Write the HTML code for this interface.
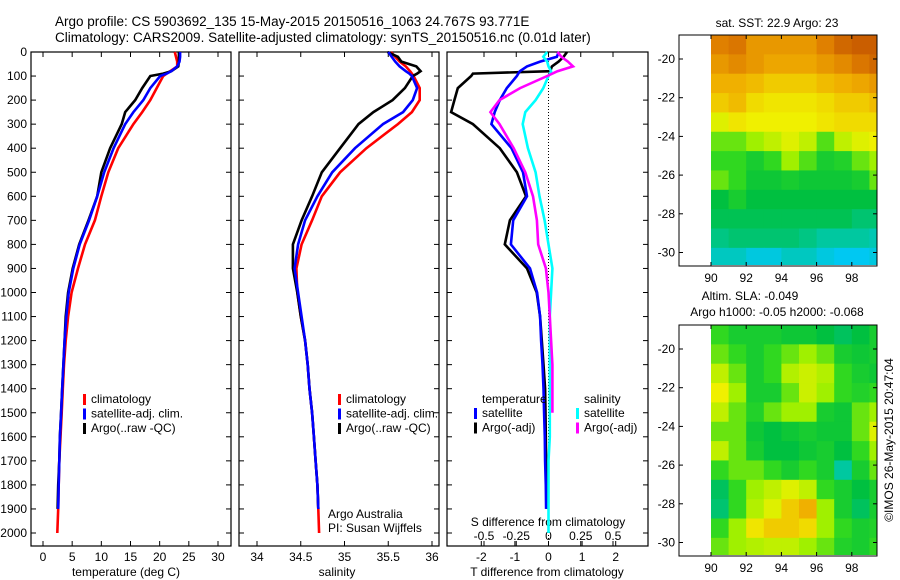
<!DOCTYPE html>
<html><head><meta charset="utf-8"><style>
body{margin:0;background:#fff}
svg{display:block;font-family:"Liberation Sans",sans-serif}
text{fill:#000}
</style></head><body>
<svg id="fig" width="900" height="580" viewBox="0 0 900 580">
<text x="55" y="26" font-size="13.5">Argo profile: CS 5903692_135 15-May-2015 20150516_1063 24.767S 93.771E</text>
<text x="55" y="42" font-size="13.5">Climatology: CARS2009. Satellite-adjusted climatology: synTS_20150516.nc (0.01d later)</text>
</svg>
<script>
// ---------- data ----------
const depthTicks=[0,100,200,300,400,500,600,700,800,900,1000,1100,1200,1300,1400,1500,1600,1700,1800,1900,2000];
const tempTicks=[0,5,10,15,20,25,30];
const salTicks=[34,34.5,35,35.5,36];
const salTickLabels=["34","34.5","35","35.5","36"];
const tdTicks=[-2,-1,0,1,2];
const sdTicks=[-0.5,-0.25,0,0.25,0.5];
const sdTickLabels=["-0.5","-0.25","0","0.25","0.5"];
const lonTicks=[90,92,94,96,98];
const latTicks=[-20,-22,-24,-26,-28,-30];

const depths=[0,20,40,60,80,90,100,150,200,250,300,400,500,600,700,800,900,1000,1100,1200,1300,1400,1500,1600,1700,1800,1900,2000];
const tempClim=[22.6,22.8,23.0,23.0,21.8,21.2,20.6,19.5,18.4,17.0,15.5,12.9,11.2,10.0,8.9,7.2,6.0,4.9,4.3,3.9,3.6,3.4,3.2,3.0,2.8,2.7,2.6,2.45];
const tempSat=[23.5,23.5,23.4,23.0,22.0,21.2,20.1,18.4,17.2,15.5,14.1,12.1,10.5,9.3,7.9,6.3,5.2,4.4,4.0,3.7,3.5,3.3,3.1,2.9,2.8,2.7,2.6,2.5];
const tempArgo=[23.3,23.3,23.3,23.2,22.0,20.6,18.4,17.0,15.8,14.1,13.5,11.5,10.0,9.3,7.8,6.2,5.1,4.3,3.9,3.7,3.5,3.3,3.1,2.9,2.8,2.6,2.5,2.3];
const salClim=[35.53,35.58,35.63,35.70,35.75,35.77,35.79,35.86,35.86,35.77,35.61,35.25,34.95,34.74,34.63,34.51,34.45,34.46,34.50,34.55,34.58,34.60,34.63,34.65,34.67,34.69,34.70,34.71];
const salSat=[35.50,35.54,35.58,35.63,35.70,35.74,35.77,35.83,35.78,35.67,35.44,35.12,34.86,34.69,34.55,34.47,34.43,34.47,34.51,34.55,34.58,34.60,34.63,34.65,34.67,34.69,34.70,34.71];
const salArgo=[35.49,35.61,35.65,35.82,35.87,35.83,35.78,35.69,35.55,35.33,35.16,34.95,34.74,34.63,34.51,34.41,34.41,34.46,34.50,34.55,34.58,34.60,34.63,34.65,34.67,34.69,34.70,34.70];
const tdSat=[0.3,0.25,-0.25,-0.64,-0.85,-0.9,-0.94,-1.24,-1.45,-1.6,-1.7,-1.1,-0.76,-0.64,-1.05,-1.12,-0.55,-0.34,-0.25,-0.22,-0.18,-0.15,-0.13,-0.11,-0.1,-0.08,-0.07,-0.05];
const tdArgo=[0.55,0.45,0.3,0.1,0.05,-2.25,-2.3,-2.7,-2.8,-2.9,-2.25,-1.45,-0.94,-0.67,-1.15,-1.3,-0.64,-0.35,-0.25,-0.2,-0.15,-0.1,-0.09,-0.08,-0.07,-0.06,-0.05,-0.05];
const sdSat=[-0.01,-0.04,-0.01,0,0.02,0.01,0,-0.04,-0.1,-0.18,-0.2,-0.16,-0.1,-0.07,-0.03,0,0.03,0.02,0.01,0.01,0.01,0.01,0.01,0.01,0.0,0.0,0.0,0.0];
const sdArgo=[0.07,0.1,0.15,0.19,0.07,0.03,-0.01,-0.22,-0.38,-0.45,-0.38,-0.27,-0.18,-0.12,-0.09,-0.08,-0.02,0,0.01,0.02,0.03,0.03,0.03,0.02,0.01,0.01,0.01,0.01];

const sstGrid=[
[0.9,0.92,0.85,0.85,0.85,0.85,0.9,0.95,0.97,0.97],
[0.85,0.88,0.85,0.82,0.82,0.82,0.85,0.88,0.92,0.95],
[0.8,0.8,0.78,0.75,0.75,0.75,0.78,0.8,0.82,0.85],
[0.75,0.78,0.72,0.7,0.7,0.7,0.72,0.75,0.75,0.78],
[0.65,0.7,0.68,0.68,0.68,0.68,0.7,0.72,0.72,0.72],
[0.5,0.5,0.55,0.6,0.65,0.6,0.48,0.6,0.65,0.68],
[0.45,0.45,0.4,0.45,0.55,0.48,0.4,0.42,0.5,0.55],
[0.5,0.45,0.38,0.38,0.4,0.38,0.38,0.38,0.4,0.5],
[0.35,0.4,0.35,0.35,0.35,0.35,0.35,0.35,0.35,0.35],
[0.33,0.33,0.33,0.33,0.33,0.33,0.33,0.33,0.3,0.3],
[0.28,0.3,0.3,0.3,0.3,0.28,0.25,0.25,0.25,0.22],
[0.2,0.2,0.15,0.15,0.2,0.2,0.15,0.12,0.12,0.15]];
const slaGrid=[
[0.45,0.4,0.4,0.4,0.38,0.38,0.35,0.32,0.35,0.4],
[0.5,0.45,0.4,0.45,0.5,0.55,0.5,0.4,0.38,0.4],
[0.6,0.5,0.4,0.45,0.58,0.62,0.58,0.45,0.4,0.38],
[0.68,0.55,0.4,0.4,0.5,0.62,0.55,0.45,0.42,0.45],
[0.6,0.5,0.42,0.5,0.55,0.55,0.4,0.38,0.5,0.55],
[0.5,0.5,0.38,0.35,0.38,0.4,0.38,0.38,0.5,0.65],
[0.6,0.5,0.4,0.35,0.35,0.38,0.4,0.35,0.45,0.55],
[0.45,0.5,0.5,0.45,0.4,0.45,0.4,0.25,0.4,0.5],
[0.32,0.45,0.55,0.6,0.65,0.6,0.45,0.4,0.35,0.4],
[0.3,0.45,0.58,0.65,0.75,0.8,0.55,0.4,0.32,0.4],
[0.45,0.55,0.7,0.75,0.75,0.72,0.55,0.45,0.4,0.42],
[0.5,0.55,0.58,0.6,0.6,0.55,0.5,0.42,0.4,0.45]];

// ---------- helpers ----------
const NS="http://www.w3.org/2000/svg";
const svg=document.getElementById('fig');
function mk(tag,attrs,parent){const e=document.createElementNS(NS,tag);for(const k in attrs)e.setAttribute(k,attrs[k]);(parent||svg).appendChild(e);return e;}
function txt(x,y,s,anchor,size,parent){const t=mk('text',{x:x,y:y,'font-size':size||12,'text-anchor':anchor||'start'},parent);t.textContent=s;return t;}
const TOP=52,BOT=546;
const yD=d=>TOP+d*0.2405;
const xT=v=>43+v*5.833;
const xS=v=>257+(v-34)*87.5;
const xTD=v=>548.5+v*33.6;
const xSD=v=>548.5+v*129;

function frame(x0,x1,name){
  const r=mk('rect',{x:x0,y:TOP,width:x1-x0,height:BOT-TOP,fill:'none',stroke:'#000','stroke-width':1.2});
  
  
  depthTicks.forEach(d=>{mk('line',{x1:x0,x2:x0+5,y1:yD(d),y2:yD(d),stroke:'#000'});mk('line',{x1:x1,x2:x1-5,y1:yD(d),y2:yD(d),stroke:'#000'});});
}
function line(xs,xf,color,name,n){
  const pts=depths.slice(0,n||depths.length).map((d,i)=>xf(xs[i]).toFixed(1)+','+yD(d).toFixed(1)).join(' ');
  const p=mk('polyline',{points:pts,fill:'none',stroke:color,'stroke-width':2.6,'stroke-linejoin':'miter'});
  
  
}
function legend(x,y,items){
  items.forEach((it,i)=>{mk('rect',{x:x,y:y+i*14.5-9,width:3,height:11,fill:it[0]});txt(x+8,y+i*14.5,it[1]);});
}

// depth labels
depthTicks.forEach(d=>{const t=txt(27,yD(d)+4,String(d),'end',12);});

// panel 1 temperature
frame(31,231,'temperature-panel');
tempTicks.forEach(v=>{mk('line',{x1:xT(v),x2:xT(v),y1:TOP,y2:TOP+5,stroke:'#000'});mk('line',{x1:xT(v),x2:xT(v),y1:BOT,y2:BOT-5,stroke:'#000'});txt(xT(v),561,String(v),'middle');});
txt(126,576,'temperature (deg C)','middle');
line(tempClim,xT,'#f00','temp-climatology');
line(tempArgo,xT,'#000','temp-argo',27);
line(tempSat,xT,'#00f','temp-satellite',27);
legend(83,403,[['#f00','climatology'],['#00f','satellite-adj. clim.'],['#000','Argo(..raw -QC)']]);

// panel 2 salinity
frame(239,439,'salinity-panel');
salTicks.forEach((v,i)=>{mk('line',{x1:xS(v),x2:xS(v),y1:TOP,y2:TOP+5,stroke:'#000'});mk('line',{x1:xS(v),x2:xS(v),y1:BOT,y2:BOT-5,stroke:'#000'});txt(xS(v),561,salTickLabels[i],'middle');});
txt(337,576,'salinity','middle');
line(salClim,xS,'#f00','salinity-climatology');
line(salArgo,xS,'#000','salinity-argo',27);
line(salSat,xS,'#00f','salinity-satellite',27);
legend(338,403,[['#f00','climatology'],['#00f','satellite-adj. clim.'],['#000','Argo(..raw -QC)']]);
txt(328,518,'Argo Australia');txt(328,532,'PI: Susan Wijffels');

// panel 3 differences
frame(447,648,'difference-panel');
mk('line',{x1:xTD(0),x2:xTD(0),y1:TOP,y2:BOT,stroke:'#000','stroke-dasharray':'1,2'});
tdTicks.forEach(v=>{mk('line',{x1:xTD(v),x2:xTD(v),y1:BOT,y2:BOT-5,stroke:'#000'});txt(xTD(v),561,String(v),'middle');});
sdTicks.forEach((v,i)=>{mk('line',{x1:xSD(v),x2:xSD(v),y1:TOP,y2:TOP+5,stroke:'#000'});mk('line',{x1:xSD(v),x2:xSD(v),y1:BOT,y2:BOT-5,stroke:'#000'});txt(xSD(v),540,sdTickLabels[i],'middle');});
txt(548,526,'S difference from climatology','middle');
txt(547,576,'T difference from climatology','middle');
line(tdArgo,xTD,'#000','tdiff-argo',27);
line(tdSat,xTD,'#00f','tdiff-satellite',27);
line(sdSat,xSD,'#0ff','sdiff-satellite');
line(sdArgo,xSD,'#f0f','sdiff-argo',23);
txt(482,403,'temperature');txt(584,403,'salinity');
legend(474,417,[['#00f','satellite'],['#000','Argo(-adj)']]);
legend(576,417,[['#0ff','satellite'],['#f0f','Argo(-adj)']]);

// maps
const stops=[[0.1,[0,200,255]],[0.25,[0,200,160]],[0.35,[0,192,64]],[0.45,[48,216,32]],[0.55,[160,240,0]],[0.68,[240,240,0]],[0.8,[240,176,0]],[0.9,[224,128,0]],[1.0,[192,80,0]]];
function cmap(v){if(v<=stops[0][0])return 'rgb('+stops[0][1]+')';for(let i=1;i<stops.length;i++){if(v<=stops[i][0]){const a=stops[i-1],b=stops[i],f=(v-a[0])/(b[0]-a[0]);return 'rgb('+a[1].map((c,j)=>Math.round(c+(b[1][j]-c)*f)).join(',')+')';}}return 'rgb('+stops[stops.length-1][1]+')';}
function map(y0,grid,name){
  const FX0=679,FX1=877,FY0=y0,FY1=y0+231;
  const xL=lon=>711+(lon-90)*17.6;
  const yL=lat=>y0+24+(-20-lat)*19.35;
  const g=mk('g',{});
  
  
  const cid='clip'+y0;
  const cp=mk('clipPath',{id:cid},g);mk('rect',{x:711,y:FY0,width:FX1-711,height:FY1-FY0-1},cp);
  const cg=mk('g',{'clip-path':'url(#'+cid+')'},g);
  grid.forEach((row,r)=>row.forEach((v,c)=>{
    const lat0=-18.76-r,lon0=90+c;
    const cell=mk('rect',{x:xL(lon0),y:yL(lat0),width:17.6+0.5,height:19.35+0.5,fill:cmap(v)},cg);
    
    
  }));
  mk('rect',{x:FX0,y:FY0,width:FX1-FX0,height:FY1-FY0,fill:'none',stroke:'#000'},g);
  lonTicks.forEach(l=>{mk('line',{x1:xL(l),x2:xL(l),y1:FY0,y2:FY0+4,stroke:'#000'},g);mk('line',{x1:xL(l),x2:xL(l),y1:FY1,y2:FY1-4,stroke:'#000'},g);txt(xL(l),FY1+16,String(l),'middle',12,g);});
  latTicks.forEach(l=>{mk('line',{x1:FX0,x2:FX0+4,y1:yL(l),y2:yL(l),stroke:'#000'},g);mk('line',{x1:FX1,x2:FX1-4,y1:yL(l),y2:yL(l),stroke:'#000'},g);txt(675,yL(l)+4,String(l),'end',12,g);});
}
map(35,sstGrid,'sst-map');
map(325,slaGrid,'sla-map');
txt(777,27,'sat. SST: 22.9 Argo: 23','middle');
txt(750,300,'Altim. SLA: -0.049','middle');
txt(777,316,'Argo h1000: -0.05 h2000: -0.068','middle');
const cr=txt(0,0,'©IMOS 26-May-2015 20:47:04','middle',12);
cr.setAttribute('transform','translate(893,440) rotate(-90)');


</script>
</body></html>
